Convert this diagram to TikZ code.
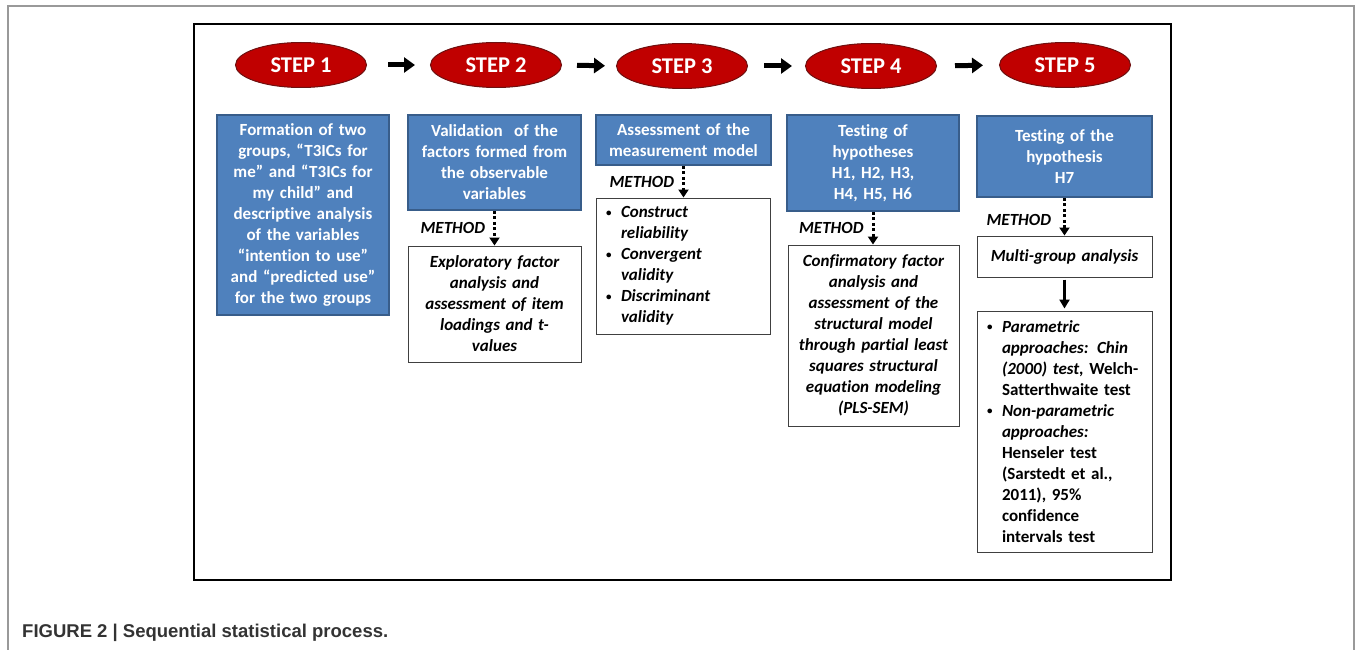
\documentclass[tikz,border=0pt]{standalone}
\usepackage{fontspec}
\setmainfont{Carlito}[Ligatures=NoCommon]
\newfontfamily\capfont{Liberation Sans}
\usetikzlibrary{shapes.geometric,arrows.meta}
\definecolor{stepred}{HTML}{C00000}
\definecolor{stepedge}{HTML}{6E1010}
\definecolor{boxblue}{HTML}{4F81BD}
\definecolor{boxedge}{HTML}{385D8A}
\definecolor{capgray}{HTML}{333333}
\newcommand\mybul{\makebox[15pt][l]{\upshape\fontsize{11}{11}\selectfont\raisebox{1.5pt}{\textbullet}}}
\newcommand\myind{\hspace*{15pt}}
\tikzset{
 stepnode/.style={ellipse, fill=stepred, draw=stepedge, line width=1pt, inner sep=0pt,
   minimum width=131pt, minimum height=45pt, text=white, font=\fontsize{22.5}{26}\selectfont\bfseries},
 bluebox/.style={rectangle, fill=boxblue, draw=boxedge, line width=1.5pt, inner xsep=4pt, inner ysep=0pt,
   text=white, align=center, font=\fontsize{17}{21}\selectfont\bfseries},
 methodbox/.style={rectangle, fill=white, draw=black!75, line width=1pt, inner xsep=4pt, inner ysep=0pt,
   align=center, font=\fontsize{17}{21}\selectfont\bfseries\itshape},
 listbox/.style={rectangle, fill=white, draw=black!75, line width=1pt, inner xsep=10pt, inner ysep=0pt,
   align=left, font=\fontsize{17}{21}\selectfont\bfseries},
 steparrow/.style={line width=5pt, -{Triangle[length=11pt,width=15pt]}},
 dotarrow/.style={line width=3pt, dash pattern=on 3pt off 2.5pt, -{Triangle[length=8pt,width=10pt]}},
 solidarrow/.style={line width=2.5pt, -{Triangle[length=9pt,width=10pt]}},
 methodlabel/.style={font=\fontsize{17}{20}\selectfont\bfseries\itshape, left=7pt, inner sep=1pt},
}
\begin{document}
\begin{tikzpicture}[x=1pt,y=-1pt]
\useasboundingbox (0,0) rectangle (1357,650);
% outer gray frame
\draw[gray!80, line width=1.5pt] (8,652) -- (8,6) -- (1354,6) -- (1354,652);
% inner frame
\draw[black, line width=2.5pt] (194,24) rectangle (1171,580);

% steps
\node[stepnode] (s1) at (301,65) {STEP 1};
\node[stepnode] (s2) at (496,65) {STEP 2};
\node[stepnode] (s3) at (682,66) {STEP 3};
\node[stepnode] (s4) at (871,66) {STEP 4};
\node[stepnode] (s5) at (1065,65) {STEP 5};
\draw[steparrow, shorten <=21pt, shorten >=15pt] (s1.east) -- (s2.west);
\draw[steparrow, shorten <=15pt, shorten >=11pt] (s2.east) -- (s3.west);
\draw[steparrow, shorten <=16pt, shorten >=13pt] (s3.east) -- (s4.west);
\draw[steparrow, shorten <=18pt, shorten >=16pt] (s4.east) -- (s5.west);

% blue boxes
\node[bluebox, text width=164pt, minimum height=200pt] (b1) at (303,215)
 {Formation of two\\groups, “T3ICs for\\me” and “T3ICs for\\my child” and\\descriptive analysis\\of the variables\\“intention to use”\\and “predicted use”\\for the two groups};
\node[bluebox, text width=165pt, minimum height=95pt] (b2) at (494.5,162.5)
 {Validation\ \ of the\\factors formed from\\the observable\\variables};
\node[bluebox, text width=167pt, minimum height=50pt] (b3) at (683.5,140)
 {Assessment of the\\measurement model};
\node[bluebox, text width=164pt, minimum height=96pt] (b4) at (873,163)
 {Testing of\\hypotheses\\H1, H2, H3,\\H4, H5, H6};
\node[bluebox, text width=167pt, minimum height=81pt] (b5) at (1064.5,156.5)
 {Testing of the\\hypothesis\\H7};

% method boxes
\node[methodbox, text width=165pt, minimum height=116pt] (m2) at (494.5,304)
 {Exploratory factor\\analysis and\\assessment of item\\loadings and t-\\values};
\node[listbox, font=\fontsize{17}{21}\selectfont\bfseries\itshape, text width=154pt, minimum height=136pt] (m3) at (683,266)
 {\mybul Construct\\\myind reliability\\\mybul Convergent\\\myind validity\\\mybul Discriminant\\\myind validity};
\node[methodbox, text width=163pt, minimum height=181pt] (m4) at (873.5,335.5)
 {Confirmatory factor\\analysis and\\assessment of the\\structural model\\through partial least\\squares structural\\equation modeling\\(PLS-SEM)};
\node[methodbox, text width=167pt, minimum height=41pt] (m5) at (1064.5,256.5)
 {Multi-group analysis};
\node[listbox, text width=155pt, minimum height=241pt] (f5) at (1064.5,431.5)
 {\mybul\textit{Parametric}\\
  \myind\textit{approaches: Chin}\\
  \myind\textit{(2000) test,} Welch-\\
  \myind Satterthwaite test\\
  \mybul\textit{Non-parametric}\\
  \myind\textit{approaches:}\\
  \myind Henseler test\\
  \myind (Sarstedt et al.,\\
  \myind 2011), 95\%\\
  \myind confidence\\
  \myind intervals test};

% method arrows
\draw[dotarrow] (b2.south) -- (b2.south |- m2.north) node[midway, methodlabel] {METHOD};
\draw[dotarrow] (b3.south) -- (b3.south |- m3.north) node[midway, methodlabel] {METHOD};
\draw[dotarrow] (b4.south) -- (b4.south |- m4.north) node[midway, methodlabel] {METHOD};
\draw[dotarrow] (b5.south) -- (b5.south |- m5.north) node[midway, methodlabel, yshift=-3pt, left=4pt] {METHOD};
\draw[solidarrow, shorten <=2pt, shorten >=2pt] (m5.south) -- (f5.north);

% caption
\node[anchor=base west, inner sep=0pt, text=capgray, font=\capfont\fontsize{18.5}{22}\selectfont\bfseries] (cap) at (22,637)
 {FIGURE 2 | Sequential statistical process.};
\end{tikzpicture}
\end{document}
